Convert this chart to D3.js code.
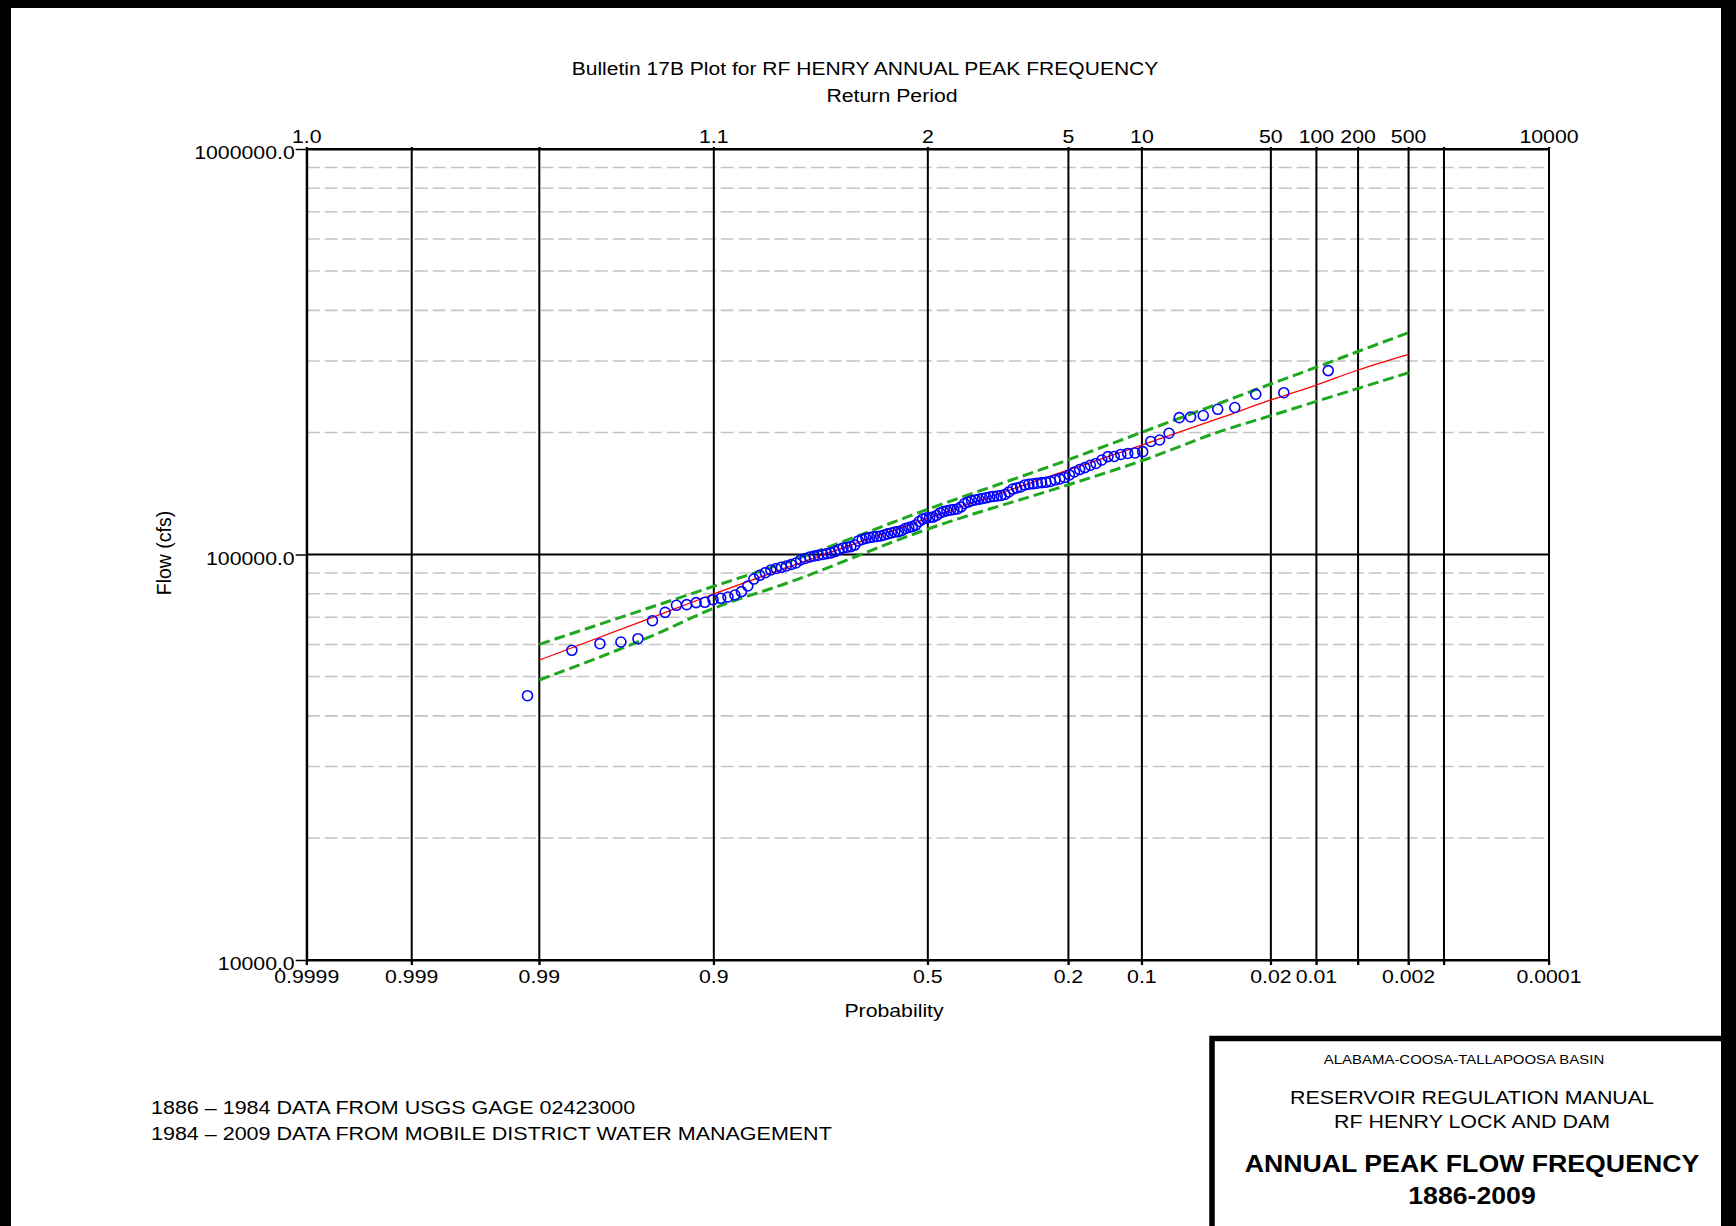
<!DOCTYPE html>
<html><head><meta charset="utf-8">
<script src="https://cdn.jsdelivr.net/npm/d3@7"></script>
<style>
body{margin:0;background:#fff}
svg{display:block}
text{font-family:"Liberation Sans",Arial,Helvetica,sans-serif;fill:#000}
</style>
</head><body>
<svg id="chart" width="1736" height="1226"></svg>
<script>
// ---------- DATA ----------
const probTicks    = [0.9999, 0.999, 0.99, 0.9, 0.5, 0.2, 0.1, 0.02, 0.01, 0.005, 0.002, 0.001, 0.0001];
const probLabels   = ["0.9999","0.999","0.99","0.9","0.5","0.2","0.1","0.02","0.01","","0.002","","0.0001"];
const returnLabels = ["1.0","","","1.1","2","5","10","50","100","200","500","","10000"];
const flowTicks      = [10000, 100000, 1000000];
const flowTickLabels = ["10000.0","100000.0","1000000.0"];

// observed annual peaks (cfs), ranked largest -> smallest
const observedFlows = [
 284100, 250600, 248400, 230400, 228100, 220200, 218300, 217500, 199100, 191600,
 190000, 179300, 178000, 177500, 176500, 174500, 174300, 171000, 167700, 166000,
 163800, 162000, 159800, 157100, 154900, 153600, 152700, 151400, 150700, 150400,
 149900, 149400, 149000, 148400, 146700, 145900, 145000, 142600, 140600, 139800,
 139400, 139000, 138600, 138000, 137400, 136800, 136300, 135700, 134700, 133600,
 131000, 129500, 129100, 128700, 128200, 127600, 126600, 124800, 123700, 123400,
 123000, 122300, 120600, 118200, 117200, 116600, 115900, 114600, 113900, 113600,
 113000, 112400, 111700, 111100, 110800, 110500, 110100, 109600, 108900, 108000,
 105500, 104600, 104200, 103800, 102900, 101700, 100900, 100500, 100000, 99600,
 99150, 98590, 97750, 96920, 95280, 94470, 93670, 92990, 92360, 91570,
 90180, 88860, 87000, 83630, 80980, 79450, 78560, 77980, 77360, 76230,
 76100, 75210, 74950, 72010, 68660, 62000, 60840, 60260, 58040, 44850
];

// computed frequency curve and 95% confidence limits
const curveProb    = [0.99, 0.95, 0.9, 0.8, 0.5, 0.2, 0.1, 0.04, 0.02, 0.01, 0.005, 0.002];
const computedFlow = [54900, 70100, 79900, 92900, 123000, 161600, 186200, 217100, 240500, 261800, 285100, 311700];
const upperLimit   = [60050, 74430, 83500, 95800, 129300, 171300, 200200, 236400, 263300, 289700, 316700, 352400];
const lowerLimit   = [49040, 63170, 73700, 85050, 115600, 148600, 170300, 201200, 220000, 238500, 256800, 280700];

const titleText = "Bulletin 17B Plot for RF HENRY ANNUAL PEAK FREQUENCY";
const notes = ["1886 \u2013 1984 DATA FROM USGS GAGE 02423000",
               "1984 \u2013 2009 DATA FROM MOBILE DISTRICT WATER MANAGEMENT"];
const boxLines = ["ALABAMA-COOSA-TALLAPOOSA BASIN","RESERVOIR REGULATION MANUAL","RF HENRY LOCK AND DAM",
                  "ANNUAL PEAK FLOW FREQUENCY","1886-2009"];

// ---------- HELPERS ----------
function qnorm(p){
  const a=[-3.969683028665376e+01,2.209460984245205e+02,-2.759285104469687e+02,1.383577518672690e+02,-3.066479806614716e+01,2.506628277459239e+00];
  const b=[-5.447609879822406e+01,1.615858368580409e+02,-1.556989798598866e+02,6.680131188771972e+01,-1.328068155288572e+01];
  const c=[-7.784894002430293e-03,-3.223964580411365e-01,-2.400758277161838e+00,-2.549732539343734e+00,4.374664141464968e+00,2.938163982698783e+00];
  const d=[7.784695709041462e-03,3.224671290700398e-01,2.445134137142996e+00,3.754408661907416e+00];
  const pl=0.02425, ph=1-pl; let q,r;
  if(p<pl){q=Math.sqrt(-2*Math.log(p));return (((((c[0]*q+c[1])*q+c[2])*q+c[3])*q+c[4])*q+c[5])/((((d[0]*q+d[1])*q+d[2])*q+d[3])*q+1);}
  if(p>ph){q=Math.sqrt(-2*Math.log(1-p));return -(((((c[0]*q+c[1])*q+c[2])*q+c[3])*q+c[4])*q+c[5])/((((d[0]*q+d[1])*q+d[2])*q+d[3])*q+1);}
  q=p-0.5;r=q*q;return (((((a[0]*r+a[1])*r+a[2])*r+a[3])*r+a[4])*r+a[5])*q/(((((b[0]*r+b[1])*r+b[2])*r+b[3])*r+b[4])*r+1);
}
const zOf = p => qnorm(1 - p);   // exceedance probability -> standard normal variate

const SX = 1.15; // horizontal stretch of the lettering in the original
const svg = d3.select("#chart");
function label(parent, x, y, s, size, anchor="middle", weight="normal", sx=SX){
  return parent.append("text")
    .attr("transform", `translate(${x},${y}) scale(${sx},1)`)
    .attr("font-size", size).attr("text-anchor", anchor).attr("font-weight", weight)
    .text(s);
}

// ---------- SCALES ----------
const L = 306.7, R = 1549, T = 149, B = 960;
const x = d3.scaleLinear().domain([zOf(0.9999), zOf(0.0001)]).range([L, R]);
const y = d3.scaleLog().domain([10000, 1000000]).range([B, T]);

// ---------- FRAME ----------
svg.append("rect").attr("x",0).attr("y",0).attr("width",1736).attr("height",1226).attr("fill","#fff");
svg.append("rect").attr("x",0).attr("y",0).attr("width",11).attr("height",1226).attr("fill","#000");
svg.append("rect").attr("x",0).attr("y",0).attr("width",1736).attr("height",8).attr("fill","#000");
svg.append("rect").attr("x",1721).attr("y",0).attr("width",15).attr("height",1226).attr("fill","#000");

// ---------- GRID ----------
const g = svg.append("g");
const minor = [];
for (let dec = 10000; dec < 1000000; dec *= 10)
  for (let k = 2; k <= 9; k++) minor.push(dec * k);
g.selectAll("line.minor").data(minor).join("line")
  .attr("x1", L).attr("x2", R).attr("y1", d => y(d)).attr("y2", d => y(d))
  .attr("stroke", "#c4c4c4").attr("stroke-width", 1.6).attr("stroke-dasharray", "13,5");

g.selectAll("line.vgrid").data(probTicks).join("line")
  .attr("x1", d => x(zOf(d))).attr("x2", d => x(zOf(d)))
  .attr("y1", T - 2).attr("y2", B + 5)
  .attr("stroke", "#000").attr("stroke-width", 2);

g.selectAll("line.hmajor").data(flowTicks).join("line")
  .attr("x1", L).attr("x2", R).attr("y1", d => y(d)).attr("y2", d => y(d))
  .attr("stroke", "#000").attr("stroke-width", 2);

// ---------- AXES ----------
const zTicks = probTicks.map(zOf);
const axB = svg.append("g").attr("transform", `translate(0,${B})`)
  .call(d3.axisBottom(x).tickValues(zTicks).tickSize(5).tickSizeOuter(0).tickFormat(() => ""));
const axT = svg.append("g").attr("transform", `translate(0,${T})`)
  .call(d3.axisTop(x).tickValues(zTicks).tickSize(2).tickSizeOuter(0).tickFormat(() => ""));
const axL = svg.append("g").attr("transform", `translate(${L},0)`)
  .call(d3.axisLeft(y).tickValues(flowTicks).tickSize(11).tickSizeOuter(0).tickFormat(() => ""));
[axB, axT, axL].forEach(a => { a.select(".domain").attr("stroke","#000").attr("stroke-width",2);
  a.selectAll(".tick line").attr("stroke","#000").attr("stroke-width",1.5); });

// tick labels
probTicks.forEach((p, i) => {
  if (probLabels[i]) label(svg, x(zOf(p)), 983, probLabels[i], 18.5);
  if (returnLabels[i]) label(svg, x(zOf(p)), 143, returnLabels[i], 18.5);
});
flowTicks.forEach((f, i) => label(svg, L - 12, y(f) + 10, flowTickLabels[i], 18.5, "end"));

// titles
label(svg, 865, 75, titleText, 18.3);
label(svg, 892, 102, "Return Period", 18.5);
label(svg, 894, 1017, "Probability", 18.5);
svg.append("text").attr("transform", "translate(171,553) rotate(-90)")
  .attr("font-size", 19.5).attr("text-anchor", "middle").text("Flow (cfs)");

// ---------- SERIES ----------
const mk = (vals) => curveProb.map((p, i) => ({p, f: vals[i]}));
const line = d3.line().x(d => x(zOf(d.p))).y(d => y(d.f)).curve(d3.curveMonotoneX);

svg.append("path").datum(mk(upperLimit)).attr("d", line).attr("fill","none")
  .attr("stroke","#1fa81f").attr("stroke-width",3).attr("stroke-dasharray","11,5");
svg.append("path").datum(mk(lowerLimit)).attr("d", line).attr("fill","none")
  .attr("stroke","#1fa81f").attr("stroke-width",3).attr("stroke-dasharray","11,5");
svg.append("path").datum(mk(computedFlow)).attr("d", line).attr("fill","none")
  .attr("stroke","#ff0000").attr("stroke-width",1.3);

const n = observedFlows.length;
const obs = observedFlows.map((f, i) => ({p: (i + 1) / (n + 1), f}));   // Weibull plotting position
svg.append("g").selectAll("circle").data(obs).join("circle")
  .attr("cx", d => x(zOf(d.p))).attr("cy", d => y(d.f)).attr("r", 5)
  .attr("fill", "none").attr("stroke", "#0000ff").attr("stroke-width", 1.6);

// ---------- NOTES ----------
notes.forEach((s, i) => label(svg, 151, 1114 + i * 25.5, s, 18.7, "start"));

// ---------- TITLE BLOCK ----------
svg.append("path").attr("d", "M1212,1240 L1212,1038.5 L1733,1038.5")
  .attr("fill","none").attr("stroke","#000").attr("stroke-width",5.5);
label(svg, 1464, 1064, boxLines[0], 13);
label(svg, 1472, 1104, boxLines[1], 18.6);
label(svg, 1472, 1128, boxLines[2], 18.6);
label(svg, 1472, 1172, boxLines[3], 23.2, "middle", "bold");
label(svg, 1472, 1204, boxLines[4], 23.2, "middle", "bold");
</script>
</body></html>
